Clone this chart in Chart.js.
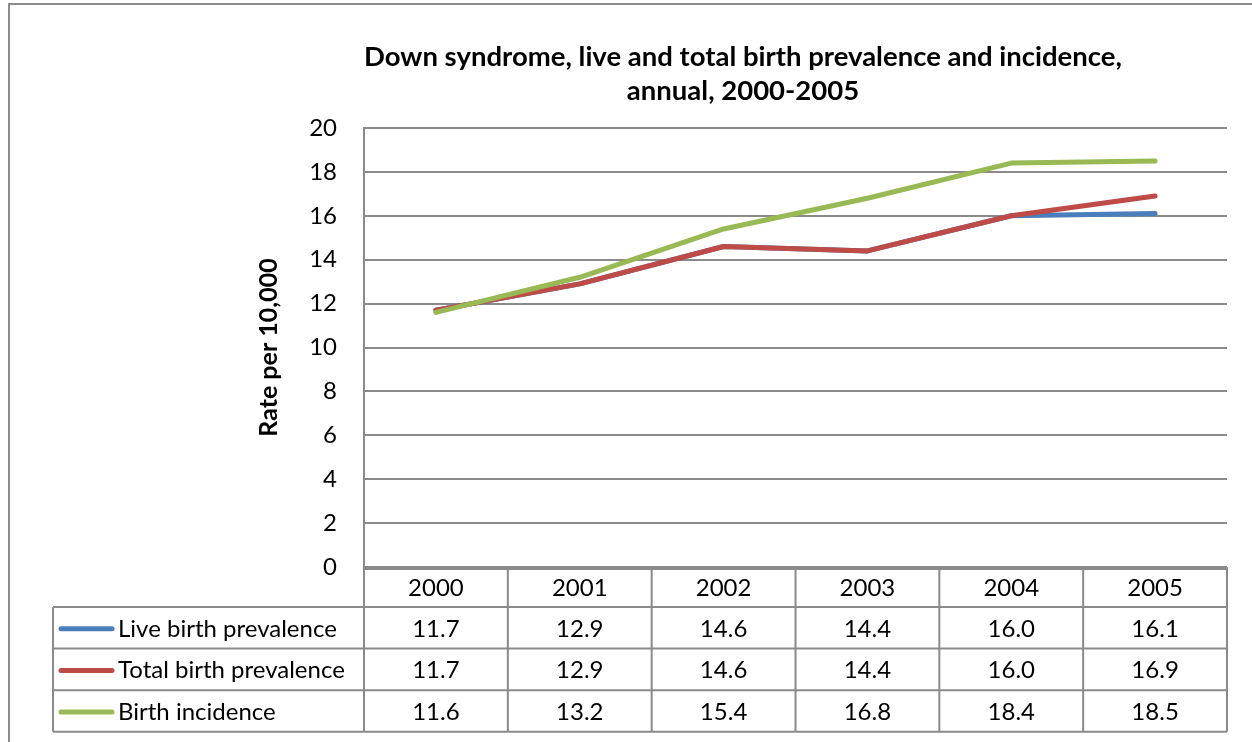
<!DOCTYPE html>
<html>
<head>
<meta charset="utf-8">
<script src="https://cdn.jsdelivr.net/npm/chart.js@4/dist/chart.umd.min.js"></script>
<style>
  html, body { margin: 0; padding: 0; background: #ffffff; }
  #wrap { width: 1252px; height: 742px; position: relative; }
</style>
</head>
<body>
<div id="wrap"><canvas id="c" width="1252" height="742"></canvas></div>
<script>
// Annual rates per 10,000, 2000-2005
const years = ['2000', '2001', '2002', '2003', '2004', '2005'];
const seriesNames = ['Live birth prevalence', 'Total birth prevalence', 'Birth incidence'];
const liveBirthPrevalence = [11.7, 12.9, 14.6, 14.4, 16.0, 16.1];
const totalBirthPrevalence = [11.7, 12.9, 14.6, 14.4, 16.0, 16.9];
const birthIncidence = [11.6, 13.2, 15.4, 16.8, 18.4, 18.5];
const yTicks = [0, 2, 4, 6, 8, 10, 12, 14, 16, 18, 20];
const titleLines = ['Down syndrome, live and total birth prevalence and incidence,', 'annual, 2000-2005'];
const yTitle = 'Rate per 10,000';

const seriesValues = [liveBirthPrevalence, totalBirthPrevalence, birthIncidence];
const seriesColors = ['#4A7EBB', '#BE4B48', '#98B954'];

const FONT = 'Lato, "Liberation Sans", sans-serif';
const GRID = '#8a8a8a';
const TEXT_SIZE = 24;

// Title, outer frame and the data table under the plot
const tablePlugin = {
  id: 'dataTable',
  afterDraw(chart) {
    const ctx = chart.ctx;
    const area = chart.chartArea;
    const xs = chart.scales.x;
    ctx.save();

    // outer frame
    ctx.strokeStyle = '#8c8c8c';
    ctx.lineWidth = 2;
    ctx.strokeRect(9, 4, 1400, 900);

    // title
    ctx.fillStyle = '#000';
    ctx.font = 'bold 27.5px ' + FONT;
    ctx.textAlign = 'center';
    ctx.textBaseline = 'middle';
    ctx.fillText(titleLines[0], 743, 57);
    ctx.fillText(titleLines[1], 743, 91);

    // table geometry from the category scale
    const cw = xs.getPixelForValue(1) - xs.getPixelForValue(0);
    const bounds = years.map((_, i) => xs.getPixelForValue(i) - cw / 2);
    bounds.push(xs.getPixelForValue(years.length - 1) + cw / 2);
    const top = area.bottom;
    const headerH = 40;
    const rowH = 41.6;
    const tableLeft = 53;
    const bottom = top + headerH + rowH * seriesNames.length;

    ctx.strokeStyle = GRID;
    ctx.lineWidth = 2;
    ctx.beginPath();
    // header top (doubles the axis line)
    ctx.moveTo(area.left, top + 2); ctx.lineTo(bounds[bounds.length - 1], top + 2);
    // row separators
    for (let r = 0; r <= seriesNames.length; r++) {
      const y = top + headerH + rowH * r;
      ctx.moveTo(tableLeft, y); ctx.lineTo(bounds[bounds.length - 1], y);
    }
    // column separators
    bounds.forEach((bx) => { ctx.moveTo(bx, top); ctx.lineTo(bx, bottom); });
    ctx.moveTo(tableLeft, top + headerH); ctx.lineTo(tableLeft, bottom);
    ctx.stroke();

    // header years
    ctx.fillStyle = '#000';
    ctx.font = TEXT_SIZE + 'px ' + FONT;
    ctx.textAlign = 'center';
    ctx.textBaseline = 'middle';
    years.forEach((yr, i) => ctx.fillText(yr, xs.getPixelForValue(i), top + headerH / 2 + 1));

    // rows: legend key, name, values
    seriesNames.forEach((name, r) => {
      const cy = top + headerH + rowH * r + rowH / 2 + 1;
      ctx.strokeStyle = seriesColors[r];
      ctx.lineWidth = 5;
      ctx.lineCap = 'round';
      ctx.beginPath();
      ctx.moveTo(61, cy); ctx.lineTo(112, cy);
      ctx.stroke();
      ctx.fillStyle = '#000';
      ctx.textAlign = 'left';
      ctx.fillText(name, 118, cy);
      ctx.textAlign = 'center';
      seriesValues[r].forEach((v, i) => ctx.fillText(v.toFixed(1), xs.getPixelForValue(i), cy));
    });
    ctx.restore();
  }
};

new Chart(document.getElementById('c'), {
  type: 'line',
  data: {
    labels: years,
    datasets: seriesNames.map((name, i) => ({
      label: name,
      data: seriesValues[i],
      borderColor: seriesColors[i],
      backgroundColor: seriesColors[i],
      borderWidth: 5,
      pointRadius: 0,
      tension: 0,
      borderCapStyle: 'round',
      borderJoinStyle: 'round',
      order: 3 - i
    }))
  },
  options: {
    responsive: false,
    animation: false,
    layout: { padding: { left: 0, right: 25, top: 128, bottom: 175 } },
    plugins: { legend: { display: false }, tooltip: { enabled: false }, title: { display: false } },
    scales: {
      x: {
        type: 'category',
        offset: true,
        display: false
      },
      y: {
        min: 0,
        max: 20,
        afterBuildTicks(scale) { scale.ticks = yTicks.map(v => ({ value: v })); },
        afterFit(scale) { scale.width = 364; },
        grid: { color: GRID, lineWidth: 2, drawTicks: false },
        border: { color: GRID, width: 2 },
        ticks: {
          padding: 27,
          color: '#000',
          font: { family: FONT, size: TEXT_SIZE }
        },
        title: {
          display: true,
          text: yTitle,
          color: '#000',
          font: { family: FONT, size: 25, weight: 'bold' },
          padding: { top: 254, bottom: 0 }
        }
      }
    }
  },
  plugins: [tablePlugin]
});
</script>
</body>
</html>
